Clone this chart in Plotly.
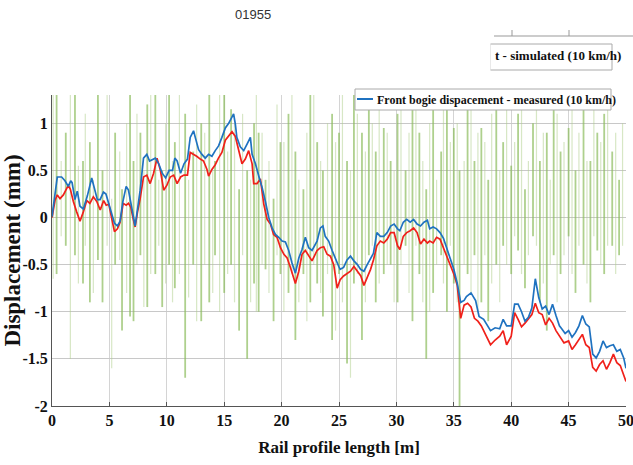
import plotly.graph_objects as go

# ---------------- data ----------------
blue_x = [0, 0.26, 0.46, 0.84, 1.13, 1.42, 1.63, 1.75, 2.0, 2.2, 2.44, 2.73, 3.08, 3.46, 3.75, 3.95, 4.19, 4.48, 4.7, 4.89,
          5.21, 5.44, 5.7, 5.93, 6.16, 6.46, 6.66, 6.86, 7.1, 7.24, 7.45, 7.68, 7.97, 8.26, 8.5, 8.79, 9.0, 9.3, 9.6, 9.9,
          10.2, 10.5, 10.7, 10.9, 11.2, 11.5, 11.8, 12.04, 12.33, 12.48, 12.77, 13.06, 13.35, 13.64, 13.93, 14.22, 14.51,
          14.8, 15.1, 15.39, 15.68, 15.82, 15.97, 16.1, 16.4, 16.7, 16.99, 17.28, 17.43, 17.72, 18.01, 18.3, 18.59, 18.88,
          19.17, 19.46, 19.75, 20.04, 20.33, 20.62, 20.9, 21.2, 21.5, 21.78, 22.07, 22.36, 22.65, 23.09, 23.38, 23.6, 23.8,
          24.1, 24.4, 24.7, 24.98, 25.1, 25.4, 25.7, 26.0, 26.3, 26.6, 26.88, 27.17, 27.46, 27.75, 28.0, 28.3, 28.6, 28.9,
          29.2, 29.5, 29.8, 30.1, 30.3, 30.6, 30.9, 31.2, 31.5, 31.8, 32.1, 32.4, 32.7, 32.9, 33.2, 33.5, 33.8, 34.1, 34.4,
          34.7, 35.0, 35.3, 35.6, 35.9, 36.1, 36.5, 36.9, 37.2, 37.6, 38.2, 38.6, 39.0, 39.3, 39.6, 40.0, 40.3, 40.6, 40.9,
          41.2, 41.5, 41.8, 42.1, 42.4, 42.7, 43.0, 43.3, 43.6, 43.9, 44.2, 44.4, 44.7, 45.0, 45.3, 45.6, 45.9, 46.2, 46.5,
          46.8, 47.1, 47.4, 47.7, 48.0, 48.3, 48.6, 48.9, 49.2, 49.5, 49.8, 50.0]
blue_y = [0.01, 0.23, 0.43, 0.43, 0.39, 0.33, 0.39, 0.37, 0.19, 0.28, 0.12, 0.09, 0.23, 0.42, 0.29, 0.19, 0.19, 0.27, 0.25, 0.17,
          0.01, -0.06, -0.09, -0.04, 0.16, 0.33, 0.29, 0.16, -0.02, -0.09, 0.09, 0.29, 0.63, 0.67, 0.6, 0.62, 0.63, 0.57, 0.47, 0.42,
          0.5, 0.5, 0.63, 0.6, 0.47, 0.57, 0.62, 0.85, 0.92, 0.85, 0.72, 0.67, 0.63, 0.67, 0.65, 0.71, 0.76,
          0.85, 0.95, 1.0, 1.06, 1.1, 0.99, 0.85, 0.75, 0.71, 0.78, 0.85, 0.67, 0.57, 0.44, 0.32, 0.17, 0.0,
          -0.11, -0.18, -0.21, -0.25, -0.26, -0.35, -0.48, -0.59, -0.43, -0.34, -0.21, -0.32, -0.35, -0.25, -0.11, -0.09, -0.2,
          -0.25, -0.35, -0.45, -0.52, -0.55, -0.53, -0.45, -0.41, -0.46, -0.5, -0.55, -0.57, -0.5, -0.43, -0.38, -0.16, -0.2, -0.2,
          -0.16, -0.09, -0.07, -0.12, -0.14, -0.05, -0.02, -0.05, -0.02, -0.07, -0.09, -0.05, -0.03, -0.12, -0.1, -0.12, -0.16, -0.22, -0.33,
          -0.42, -0.55, -0.7, -0.9, -0.88, -0.84, -0.8, -0.88, -1.05, -1.08, -1.2, -1.17, -1.18, -1.08, -1.15, -1.15, -0.92, -0.92, -1.0,
          -1.1, -1.06, -0.96, -0.65, -0.85, -0.97, -0.94, -1.03, -0.92, -1.04, -1.15, -1.18, -1.23, -1.2, -1.27, -1.22, -1.15, -1.04, -1.13,
          -1.16, -1.45, -1.49, -1.42, -1.31, -1.38, -1.36, -1.35, -1.42, -1.4, -1.49, -1.6]

red_x = [0, 0.26, 0.46, 0.7, 0.99, 1.28, 1.42, 1.6, 1.86, 2.15, 2.44, 2.73, 3.03, 3.3, 3.6, 3.9, 4.2, 4.5, 4.72, 4.95,
         5.21, 5.44, 5.7, 5.93, 6.2, 6.46, 6.66, 6.86, 7.1, 7.24, 7.45, 7.68, 7.97, 8.26, 8.55, 8.85, 9.15, 9.44, 9.73, 10.0,
         10.3, 10.6, 10.9, 11.2, 11.5, 11.8, 12.04, 12.33, 12.6, 12.92, 13.2, 13.5, 13.64, 13.93, 14.22, 14.5, 14.8, 15.1,
         15.39, 15.68, 15.97, 16.26, 16.55, 16.84, 17.13, 17.43, 17.57, 17.86, 18.15, 18.45, 18.74, 19.03, 19.3, 19.6, 19.9,
         20.2, 20.48, 20.77, 21.06, 21.2, 21.5, 21.78, 22.07, 22.36, 22.65, 23.09, 23.38, 23.67, 23.96, 24.25, 24.54, 24.84,
         25.1, 25.4, 25.7, 26.0, 26.3, 26.6, 26.9, 27.17, 27.46, 27.75, 28.0, 28.3, 28.6, 28.9, 29.2, 29.5, 29.8, 30.1, 30.3,
         30.6, 30.9, 31.2, 31.5, 31.8, 32.1, 32.4, 32.7, 32.9, 33.2, 33.5, 33.8, 34.1, 34.4, 34.7, 35.0, 35.3, 35.6, 35.9,
         36.2, 36.5, 36.8, 37.1, 37.4, 37.8, 38.2, 38.6, 39.0, 39.3, 39.6, 40.0, 40.3, 40.6, 40.9, 41.2, 41.5, 41.8, 42.1,
         42.4, 42.7, 43.0, 43.3, 43.6, 43.9, 44.2, 44.6, 45.0, 45.3, 45.6, 45.9, 46.2, 46.5, 46.8, 47.1, 47.4, 47.7, 48.0,
         48.3, 48.6, 48.9, 49.2, 49.5, 49.8, 50.0]
red_y = [0.0, 0.18, 0.24, 0.2, 0.24, 0.32, 0.34, 0.3, 0.17, 0.06, -0.04, 0.06, 0.18, 0.15, 0.22, 0.17, 0.08, 0.18, 0.13, 0.14,
         -0.03, -0.15, -0.12, -0.05, 0.15, 0.13, 0.15, 0.11, -0.03, -0.1, 0.06, 0.2, 0.43, 0.45, 0.36, 0.47, 0.63, 0.5, 0.29, 0.34,
         0.43, 0.45, 0.36, 0.43, 0.45, 0.45, 0.69, 0.67, 0.65, 0.62, 0.6, 0.51, 0.44, 0.51, 0.56, 0.63, 0.69, 0.82,
         0.86, 0.91, 0.86, 0.71, 0.57, 0.62, 0.71, 0.57, 0.36, 0.36, 0.41, 0.14, -0.02, -0.07, -0.18, -0.21, -0.32,
         -0.39, -0.43, -0.53, -0.64, -0.7, -0.57, -0.39, -0.35, -0.41, -0.46, -0.35, -0.32, -0.31, -0.39, -0.41, -0.5, -0.75,
         -0.66, -0.62, -0.59, -0.57, -0.52, -0.57, -0.62, -0.72, -0.64, -0.55, -0.45, -0.3, -0.25, -0.27, -0.23, -0.16, -0.16, -0.3, -0.34,
         -0.2, -0.16, -0.14, -0.11, -0.16, -0.28, -0.23, -0.27, -0.25, -0.27, -0.21, -0.23, -0.32, -0.43, -0.5, -0.6, -0.72, -1.07, -0.93,
         -0.91, -0.95, -1.07, -1.1, -1.15, -1.25, -1.35, -1.3, -1.26, -1.2, -1.35, -1.26, -1.01, -1.08, -1.16, -1.12, -1.08, -1.03, -0.91,
         -1.01, -1.03, -1.14, -1.07, -1.12, -1.2, -1.26, -1.33, -1.31, -1.4, -1.35, -1.3, -1.24, -1.35, -1.38, -1.59, -1.63, -1.56, -1.52,
         -1.61, -1.54, -1.45, -1.54, -1.57, -1.67, -1.74]

# raw profile spikes (dark green): position, low end, high end
dark_x = [0.4, 1.2, 2.0, 2.7, 3.3, 4.0, 4.4, 5.5, 6.1, 6.8, 7.1, 7.7, 8.3, 9.0, 9.6, 10.2, 10.7, 11.6, 12.3, 13.0,
          13.7, 14.2, 15.0, 15.6, 16.3, 17.0, 17.6, 18.0, 18.6, 19.3, 19.9, 20.6, 21.2, 21.9, 22.5, 23.1, 23.6, 24.4,
          25.0, 25.7, 26.3, 27.0, 27.6, 28.2, 28.9, 29.5, 30.1, 30.8, 31.4, 32.0, 32.6, 33.2, 33.9, 34.4, 35.0, 35.5,
          36.2, 36.8, 37.4, 38.0, 38.7, 39.3, 40.0, 40.6, 41.2, 41.9, 42.5, 43.1, 43.7, 44.3, 45.0, 45.6, 46.3, 46.9,
          47.5, 48.1, 48.8, 49.4]
dark_lo = [-0.6, -0.3, -0.4, -0.7, -0.9, -0.45, -0.9, -0.5, -1.2, -1.05, -1.1, -0.4, -0.95, -0.6, -0.95, -0.5, -0.75, -1.7, -0.5, -1.1,
           -0.9, -0.4, -0.8, -0.5, -1.2, -1.5, -0.7, -1.0, -0.55, -1.1, -0.6, -0.8, -1.3, -0.6, -0.9, -0.7, -1.05, -1.3,
           -0.6, -1.55, -0.7, -1.3, -0.4, -0.9, -0.6, -0.5, -0.9, -0.3, -1.1, -0.6, -1.5, -0.8, -0.4, -1.0, -0.7, -2.0,
           -0.6, -0.4, -0.9, -1.1, -0.5, -0.3, -0.6, -0.35, -0.75, -0.2, -0.9, -1.2, -0.4, -0.6, -0.2, -0.8, -0.5, -0.9,
           -0.35, -0.6, -0.3, -0.4]
dark_hi = [1.3, 0.9, 1.3, 0.6, 0.8, 1.3, 0.5, 0.9, 0.3, 1.3, 0.6, 0.9, 1.2, 1.3, 0.5, 1.3, 0.8, 1.1, 0.7, 1.0,
           1.3, 0.6, 1.3, 1.15, 0.3, 0.5, 1.0, 0.9, 0.4, 0.2, 0.8, 1.1, 0.7, 0.3, 1.3, 0.8, 0.5, 1.1,
           0.9, 0.6, 1.3, 0.9, 1.3, 0.7, 0.95, 0.6, 1.1, 0.5, 1.3, 0.9, 0.3, 1.2, 0.7, 1.3, 0.95, 0.5,
           1.3, 0.6, 0.95, 0.4, 1.3, 0.8, 0.55, 1.1, 0.3, 1.0, 0.6, 0.9, 1.3, 0.7, 0.95, 0.5, 1.3, 0.6,
           0.9, 1.1, 0.7, 0.4]

# raw profile spikes (pale green)
pale_x = [0.1, 0.8, 1.6, 2.3, 2.9, 3.6, 4.8, 5.2, 5.9, 6.5, 7.4, 8.0, 8.6, 9.3, 9.9, 10.5, 11.1, 11.9, 12.6, 13.3,
          14.0, 14.6, 15.3, 15.9, 16.6, 17.3, 17.8, 18.3, 18.9, 19.6, 20.2, 20.9, 21.5, 22.2, 22.8, 23.4, 24.0, 24.7,
          25.3, 26.0, 26.6, 27.3, 27.9, 28.5, 29.2, 29.8, 30.4, 31.1, 31.7, 32.3, 32.9, 33.5, 34.1, 34.7, 35.3, 35.9,
          36.5, 37.1, 37.7, 38.3, 39.0, 39.6, 40.3, 40.9, 41.5, 42.2, 42.8, 43.4, 44.0, 44.6, 45.3, 45.9, 46.6, 47.2,
          47.8, 48.4, 49.1, 49.7]
pale_lo = [-0.65, -0.2, -1.5, -0.7, -0.3, -0.8, -0.3, -1.6, -0.45, -0.8, -0.5, -0.95, -0.6, -0.3, -0.7, -0.9, -0.6, -0.85, -1.1, -0.5,
           -0.8, -1.0, -0.6, -0.9, -0.4, -0.9, -1.0, -0.5, -0.8, -0.4, -1.0, -0.6, -0.9, -1.1, -0.5, -0.8, -0.6, -1.2,
           -0.9, -1.7, -0.6, -0.9, -0.3, -0.7, -0.5, -0.9, -0.5, -0.8, -0.3, -0.9, -1.0, -0.5, -0.7, -0.3, -0.9, -0.5,
           -0.8, -1.0, -0.4, -0.7, -0.9, -0.5, -0.2, -0.6, -0.4, -0.3, -0.7, -0.5, -0.9, -0.4, -0.6, -0.3, -0.7, -0.2,
           -0.5, -0.3, -0.6, -0.3]
pale_hi = [1.3, 0.6, 1.3, 0.55, 1.1, 0.4, 1.3, 0.2, 0.7, 1.0, 1.1, 0.5, 1.3, 0.4, 1.0, 0.6, 1.3, 0.4, 1.2, 0.9,
           0.5, 1.3, 0.7, 1.0, 1.1, 0.4, 1.3, 0.9, 0.6, 1.2, 0.8, 1.3, 0.4, 0.9, 1.3, 0.6, 1.0, 0.8,
           1.3, 0.5, 1.1, 0.7, 1.0, 1.3, 0.9, 0.5, 1.2, 0.9, 1.3, 0.6, 1.0, 0.4, 1.3, 0.8, 1.0, 0.6,
           1.3, 0.9, 0.8, 1.1, 0.5, 1.3, 0.8, 1.2, 0.6, 1.3, 0.9, 0.4, 1.1, 0.8, 1.3, 0.9, 0.6, 1.2,
           0.8, 1.3, 0.9, 1.0]

x_ticks = [0, 5, 10, 15, 20, 25, 30, 35, 40, 45, 50]
y_ticks = [1, 0.5, 0, -0.5, -1, -1.5, -2]
y_tick_labels = ["1", "0.5", "0", "-0.5", "-1", "-1.5", "-2"]

legend_measured = "Front bogie dispacement - measured (10 km/h)"
legend_simulated = "t - simulated (10 km/h)"
title_text = "01955"

# ---------------- figure ----------------
W, H = 633, 465
L, R, T, B = 52, 626, 95, 406


def px(xp):
    return (xp - L) / (R - L)


def py(yp):
    return (B - yp) / (B - T)


def spikes(xs, lo, hi):
    sx, sy = [], []
    for a, b, c in zip(xs, lo, hi):
        sx += [a, a, None]
        sy += [b, c, None]
    return sx, sy


SERIF = "Liberation Serif, Times New Roman, serif"

fig = go.Figure()
sx, sy = spikes(pale_x, pale_lo, pale_hi)
fig.add_trace(go.Scatter(x=sx, y=sy, mode="lines", line=dict(color="rgba(175,208,140,0.5)", width=1.2),
                         hoverinfo="skip", showlegend=False))
sx, sy = spikes(dark_x, dark_lo, dark_hi)
fig.add_trace(go.Scatter(x=sx, y=sy, mode="lines", line=dict(color="rgba(140,188,92,0.7)", width=1.8),
                         hoverinfo="skip", showlegend=False))
fig.add_trace(go.Scatter(x=red_x, y=red_y, mode="lines", line=dict(color="#f0201a", width=1.7),
                         showlegend=False))
fig.add_trace(go.Scatter(x=blue_x, y=blue_y, mode="lines", line=dict(color="#1f72c0", width=1.7),
                         showlegend=False))

fig.update_layout(
    width=W, height=H,
    margin=dict(l=L, r=W - R, t=T, b=H - B, autoexpand=False),
    paper_bgcolor="white", plot_bgcolor="white",
    showlegend=False,
    xaxis=dict(range=[0, 50], tickvals=x_ticks, showgrid=True, gridcolor="#d4d4d4", gridwidth=1,
               zeroline=False, showline=True, linecolor="#555", linewidth=1, ticks="inside", ticklen=4,
               tickcolor="#555", ticklabeloverflow="allow", automargin=False,
               tickfont=dict(family=SERIF, size=16, color="#111", weight="bold"),
               title=dict(text="Rail profile length [m]", standoff=12,
                          font=dict(family=SERIF, size=17, color="#111", weight="bold"))),
    yaxis=dict(range=[-2, 1.3], tickvals=y_ticks, ticktext=y_tick_labels, showgrid=True, gridcolor="#c8c8c8",
               gridwidth=1, zeroline=False, showline=True, linecolor="#555", linewidth=1, ticks="",
               automargin=False,
               tickfont=dict(family=SERIF, size=16, color="#111", weight="bold"),
               title=dict(text="Displacement (mm)", standoff=0,
                          font=dict(family=SERIF, size=23, color="#111", weight="bold"))),
)

shapes = []
annotations = []

# partial upper legend box (left part hidden)
shapes.append(dict(type="line", xref="paper", yref="paper", x0=px(494), x1=px(633), y0=py(36), y1=py(36),
                   line=dict(color="#999", width=1)))
for tx in [512, 569]:
    shapes.append(dict(type="line", xref="paper", yref="paper", x0=px(tx), x1=px(tx), y0=py(36), y1=py(30),
                       line=dict(color="#999", width=1)))
shapes.append(dict(type="rect", xref="paper", yref="paper", x0=px(490), x1=px(612), y0=py(70), y1=py(44),
                   line=dict(color="#aaa", width=1), fillcolor="white"))
shapes.append(dict(type="line", xref="paper", yref="paper", x0=px(489), x1=px(489), y0=py(71), y1=py(43),
                   line=dict(color="white", width=3)))
annotations.append(dict(text=legend_simulated, xref="paper", yref="paper", x=px(493), y=py(56),
                        xanchor="left", yanchor="middle", showarrow=False,
                        font=dict(family=SERIF, size=13, color="#111", weight="bold")))

# measured legend box
shapes.append(dict(type="rect", xref="paper", yref="paper", x0=px(355), x1=px(611), y0=py(110), y1=py(89),
                   line=dict(color="#aaa", width=1), fillcolor="white"))
shapes.append(dict(type="line", xref="paper", yref="paper", x0=px(357), x1=px(373), y0=py(99), y1=py(99),
                   line=dict(color="#1f72c0", width=2)))
annotations.append(dict(text=legend_measured, xref="paper", yref="paper", x=px(375), y=py(100),
                        xanchor="left", yanchor="middle", showarrow=False,
                        font=dict(family=SERIF, size=12, color="#111", weight="bold")))

# title
annotations.append(dict(text=title_text, xref="paper", yref="paper", x=px(253), y=py(15),
                        xanchor="center", yanchor="middle", showarrow=False,
                        font=dict(family="Liberation Sans, Arial, sans-serif", size=13, color="#333")))

fig.update_layout(shapes=shapes, annotations=annotations)
fig.write_html("out.html")
